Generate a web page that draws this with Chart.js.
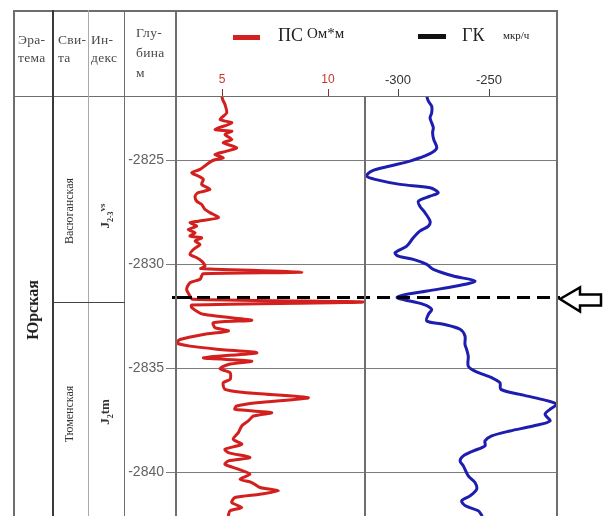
<!DOCTYPE html>
<html>
<head>
<meta charset="utf-8">
<script src="https://cdn.jsdelivr.net/npm/chart.js@4.4.0/dist/chart.umd.min.js"></script>
<style>
    body { margin: 0; background: #fff; }
    #wrap { position: relative; width: 604px; height: 516px; overflow: hidden; font-family: "Liberation Serif", "Times New Roman", serif; }
    #wrap canvas { position: absolute; left: 0; top: 0; }
    .ln { position: absolute; background: #6e6e6e; }
    .tx { position: absolute; color: #4a4a4a; font-size: 13.5px; line-height: 18px; white-space: nowrap; letter-spacing: 0.3px; }
    .rot { position: absolute; white-space: nowrap; color: #333; transform: translate(-50%, -50%) rotate(-90deg); }
    .lg { position: absolute; white-space: nowrap; color: #222; }
</style>
</head>
<body>
<div id="wrap">
    <canvas id="logChart" width="604" height="516"></canvas>

    <!-- table frame -->
    <div class="ln" style="left:13px;top:10px;width:545px;height:2px;"></div>
    <div class="ln" style="left:13px;top:96px;width:545px;height:1px;"></div>
    <div class="ln" style="left:13px;top:10px;width:2px;height:506px;"></div>
    <div class="ln" style="left:52px;top:10px;width:2px;height:506px;background:#3a3a3a;"></div>
    <div class="ln" style="left:88px;top:10px;width:1px;height:506px;background:#aaa;"></div>
    <div class="ln" style="left:124px;top:10px;width:1px;height:506px;"></div>
    <div class="ln" style="left:175px;top:10px;width:2px;height:506px;"></div>
    <div class="ln" style="left:364px;top:96px;width:2px;height:420px;"></div>
    <div class="ln" style="left:556px;top:10px;width:2px;height:506px;"></div>
    <div class="ln" style="left:53px;top:302px;width:72px;height:1px;background:#444;"></div>

    <!-- header text -->
    <div class="tx" style="left:18px;top:31px;">Эра-<br>тема</div>
    <div class="tx" style="left:58px;top:31px;">Сви-<br>та</div>
    <div class="tx" style="left:91px;top:31px;">Ин-<br>декс</div>
    <div class="tx" style="left:136px;top:23px;line-height:20px;">Глу-<br>бина<br>м</div>

    <!-- legend -->
    <div class="ln" style="left:233px;top:35px;width:27px;height:5px;background:#d42020;"></div>
    <div class="lg" style="left:278px;top:25px;font-size:18px;">ПС</div>
    <div class="lg" style="left:307px;top:25px;font-size:15px;">Ом*м</div>
    <div class="ln" style="left:418px;top:34px;width:28px;height:5px;background:#111;"></div>
    <div class="lg" style="left:462px;top:25px;font-size:18px;">ГК</div>
    <div class="lg" style="left:503px;top:29px;font-size:11px;">мкр/ч</div>

    <!-- stratigraphy columns -->
    <div class="rot" style="left:33px;top:310px;font-size:16px;font-weight:bold;color:#222;">Юрская</div>
    <div class="rot" style="left:69px;top:211px;font-size:12px;">Васюганская</div>
    <div class="rot" style="left:106px;top:216px;font-size:13px;font-weight:bold;">J<sub style="font-size:8px;">2-3</sub><span style="font-size:9px;vertical-align:4px;">vs</span></div>
    <div class="rot" style="left:69px;top:414px;font-size:12px;">Тюменская</div>
    <div class="rot" style="left:106px;top:412px;font-size:13px;font-weight:bold;">J<sub style="font-size:8px;">2</sub>tm</div>
</div>

<script>
// depth axis (m)
const DEPTH_TICKS = [-2825, -2830, -2835, -2840];
const DEPTH_TOP = -2821.9;
const DEPTH_BOTTOM = -2842.1;

// PS track, Ом*м
const PS_TICKS = [5, 10];
const PS_DEPTH = [
    -2821.9, -2822.07, -2822.31, -2822.71, -2823.03, -2823.19, -2823.51, -2823.59, -2823.75, -2823.99,
    -2824.15, -2824.39, -2824.55, -2824.71, -2824.87, -2824.99, -2825.19, -2825.43, -2825.59, -2825.75,
    -2825.91, -2826.15, -2826.39, -2826.55, -2826.72, -2826.96, -2827.12, -2827.36, -2827.51, -2827.75,
    -2827.92, -2827.99, -2828.16, -2828.32, -2828.48, -2828.64, -2828.72, -2828.88, -2829.04, -2829.28,
    -2829.52, -2829.68, -2829.84, -2830.08, -2830.2, -2830.37, -2830.45, -2830.56, -2830.72, -2830.88,
    -2831.2, -2831.52, -2831.68, -2831.81, -2831.95, -2832.08, -2832.4, -2832.68, -2832.8, -2833.04,
    -2833.2, -2833.37, -2833.61, -2833.77, -2833.93, -2834.09, -2834.25, -2834.49, -2834.65, -2834.81,
    -2835.02, -2835.21, -2835.53, -2835.69, -2836.01, -2836.17, -2836.41, -2836.65, -2836.81, -2836.97,
    -2837.13, -2837.29, -2837.53, -2837.77, -2838.09, -2838.41, -2838.65, -2838.89, -2839.05, -2839.29,
    -2839.45, -2839.61, -2839.85, -2840.09, -2840.33, -2840.49, -2840.73, -2840.89, -2841.05, -2841.21,
    -2841.45, -2841.69, -2841.85, -2842.06
];
const PS_VALUE = [
    4.99, 5.03, 5.14, 5.22, 4.91, 5.46, 4.67, 5.46, 5.14, 5.46,
    5.06, 5.69, 5.22, 4.67, 5.06, 4.59, 4.28, 3.96, 3.57, 3.88,
    4.12, 4.04, 4.43, 3.88, 3.73, 3.81, 4.04, 4.2, 4.43, 4.83,
    3.88, 3.49, 3.81, 3.41, 3.73, 3.49, 4.04, 3.73, 3.96, 3.65,
    3.49, 3.81, 4.04, 4.2, 4.0, 8.76, 4.1, 4.04, 3.96, 3.49,
    3.33, 3.49, 3.6, 11.7, 3.57, 3.57, 4.12, 6.4, 4.59, 4.67,
    5.3, 4.12, 3.02, 2.86, 3.49, 4.91, 6.64, 4.12, 6.4, 5.3,
    4.91, 5.38, 5.38, 5.06, 5.14, 6.16, 9.07, 6.64, 5.69, 5.61,
    7.34, 6.48, 6.24, 5.93, 5.77, 5.53, 5.93, 5.14, 5.3, 6.32,
    5.3, 5.14, 5.77, 6.32, 5.85, 6.4, 6.79, 7.66, 6.79, 5.61,
    5.46, 5.93, 5.38, 5.3
];

// GK track, мкр/ч
const GK_TICKS = [-300, -250];
const GK_DEPTH = [
    -2821.91, -2822.15, -2822.39, -2822.71, -2822.95, -2823.19, -2823.43, -2823.67, -2823.99, -2824.39,
    -2824.63, -2824.87, -2825.03, -2825.27, -2825.51, -2825.75, -2825.91, -2826.15, -2826.31, -2826.55,
    -2826.72, -2826.96, -2827.2, -2827.51, -2827.92, -2828.16, -2828.4, -2828.72, -2829.12, -2829.44,
    -2829.6, -2829.76, -2830.0, -2830.24, -2830.56, -2830.8, -2831.04, -2831.28, -2831.58, -2831.92,
    -2832.16, -2832.4, -2832.72, -2832.88, -2833.12, -2833.44, -2833.84, -2834.09, -2834.41, -2834.89,
    -2835.13, -2835.45, -2835.69, -2836.01, -2836.25, -2836.49, -2836.73, -2836.97, -2837.21, -2837.53,
    -2837.77, -2838.01, -2838.25, -2838.49, -2838.73, -2838.97, -2839.21, -2839.45, -2839.69, -2840.17,
    -2840.49, -2840.81, -2841.13, -2841.37, -2841.61, -2841.85, -2842.06
];
const GK_VALUE = [
    -284.2, -283.3, -281.5, -281.5, -282.4, -281.5, -280.6, -281.0, -280.4, -278.7,
    -281.5, -287.9, -293.4, -304.4, -314.5, -317.2, -312.6, -298.9, -282.4, -277.9,
    -282.4, -288.8, -288.0, -285.2, -282.4, -283.3, -288.0, -291.6, -295.2, -301.6,
    -299.8, -291.6, -284.2, -280.6, -269.6, -257.7, -267.8, -284.0, -300.5, -286.1,
    -281.5, -283.3, -284.2, -275.1, -265.9, -263.2, -263.2, -262.3, -261.4, -261.4,
    -257.7, -248.5, -244.0, -243.5, -233.0, -221.0, -212.8, -216.5, -219.2, -216.5,
    -225.7, -238.5, -248.5, -252.2, -252.2, -258.6, -264.1, -265.9, -264.1, -261.4,
    -257.7, -256.8, -260.4, -265.0, -263.0, -255.9, -254.0
];

// formation boundary
const BOUNDARY_DEPTH = -2831.56;

const boundaryLine = {
    id: 'boundaryLine',
    afterDatasetsDraw(chart) {
        const { ctx, chartArea, scales } = chart;
        const y = Math.round(scales.y.getPixelForValue(BOUNDARY_DEPTH)) + 0.5;
        const r = chartArea.right;
        ctx.save();
        ctx.strokeStyle = '#000';
        ctx.lineWidth = 3;
        ctx.beginPath();
        ctx.moveTo(chartArea.left - 4, y);
        ctx.lineTo(chartArea.left + 16, y);
        ctx.stroke();
        ctx.setLineDash([13, 7]);
        ctx.beginPath();
        ctx.moveTo(chartArea.left + 21, y);
        ctx.lineTo(r + 3, y);
        ctx.stroke();
        ctx.setLineDash([]);
        // arrow pointing at the boundary
        ctx.lineWidth = 2.5;
        ctx.beginPath();
        ctx.moveTo(r + 3, y + 1.5);
        ctx.lineTo(r + 23, y - 10);
        ctx.lineTo(r + 23, y - 3);
        ctx.lineTo(r + 44, y - 3);
        ctx.lineTo(r + 44, y + 8);
        ctx.lineTo(r + 23, y + 8);
        ctx.lineTo(r + 23, y + 14);
        ctx.closePath();
        ctx.stroke();
        ctx.restore();
    }
};

// GK tick labels sit on the same row as the PS ones
const gkLabels = {
    id: 'gkLabels',
    afterDraw(chart) {
        const { ctx, chartArea } = chart;
        const scale = chart.scales.xgk;
        ctx.save();
        ctx.fillStyle = '#333';
        ctx.font = '13px "Liberation Sans", Arial, sans-serif';
        ctx.textAlign = 'center';
        ctx.textBaseline = 'middle';
        GK_TICKS.forEach(v => {
            ctx.fillText(String(v), scale.getPixelForValue(v), chartArea.top - 16);
        });
        ctx.restore();
    }
};

function toPoints(depths, values) {
    return depths.map((d, i) => ({ x: values[i], y: d }));
}

const ctx = document.getElementById('logChart');
const logChart = new Chart(ctx, {
    type: 'line',
    data: {
        datasets: [{
            label: 'ПС',
            data: toPoints(PS_DEPTH, PS_VALUE),
            xAxisID: 'xps',
            yAxisID: 'y',
            borderColor: '#d41f1f',
            borderWidth: 3,
            tension: 0.25
        }, {
            label: 'ГК',
            data: toPoints(GK_DEPTH, GK_VALUE),
            xAxisID: 'xgk',
            yAxisID: 'y',
            borderColor: '#1d1db0',
            borderWidth: 3,
            tension: 0.3
        }]
    },
    options: {
        responsive: false,
        animation: false,
        indexAxis: 'y',
        layout: { padding: { left: 0, top: 0, right: 47, bottom: 0 } },
        elements: {
            point: { radius: 0 },
            line: { borderJoinStyle: 'round', borderCapStyle: 'round' }
        },
        plugins: {
            legend: { display: false },
            tooltip: { enabled: false }
        },
        scales: {
            y: {
                type: 'linear',
                position: 'left',
                min: DEPTH_BOTTOM,
                max: DEPTH_TOP,
                afterBuildTicks: axis => { axis.ticks = DEPTH_TICKS.map(v => ({ value: v })); },
                afterFit: axis => { axis.width = 176; axis.paddingTop = 0; axis.paddingBottom = 0; },
                grid: { color: '#7c7c7c', lineWidth: 1, tickLength: 10, tickColor: '#7c7c7c' },
                border: { display: false },
                ticks: {
                    color: '#626262',
                    padding: 2,
                    callback: v => String(v),
                    font: { family: '"Liberation Sans", Arial, sans-serif', size: 14 }
                }
            },
            xps: {
                type: 'linear',
                position: 'top',
                weight: 1,
                min: 2.83,
                max: 20.8,
                afterBuildTicks: axis => { axis.ticks = PS_TICKS.map(v => ({ value: v })); },
                afterFit: axis => { axis.height = 96; axis.paddingLeft = 0; axis.paddingRight = 0; },
                grid: { drawOnChartArea: false, tickLength: 7, tickColor: '#8a3030' },
                border: { display: false },
                ticks: {
                    color: '#c0392b',
                    padding: 2,
                    autoSkip: false,
                    maxRotation: 0,
                    font: { family: '"Liberation Sans", Arial, sans-serif', size: 12 }
                }
            },
            xgk: {
                type: 'linear',
                position: 'top',
                weight: 0,
                min: -421.98,
                max: -212.64,
                afterBuildTicks: axis => { axis.ticks = GK_TICKS.map(v => ({ value: v })); },
                afterFit: axis => { axis.height = 0; axis.paddingLeft = 0; axis.paddingRight = 0; },
                grid: { drawOnChartArea: false, tickLength: 7, tickColor: '#444' },
                border: { display: false },
                ticks: { display: false }
            }
        }
    },
    plugins: [boundaryLine, gkLabels]
});
</script>
</body>
</html>
